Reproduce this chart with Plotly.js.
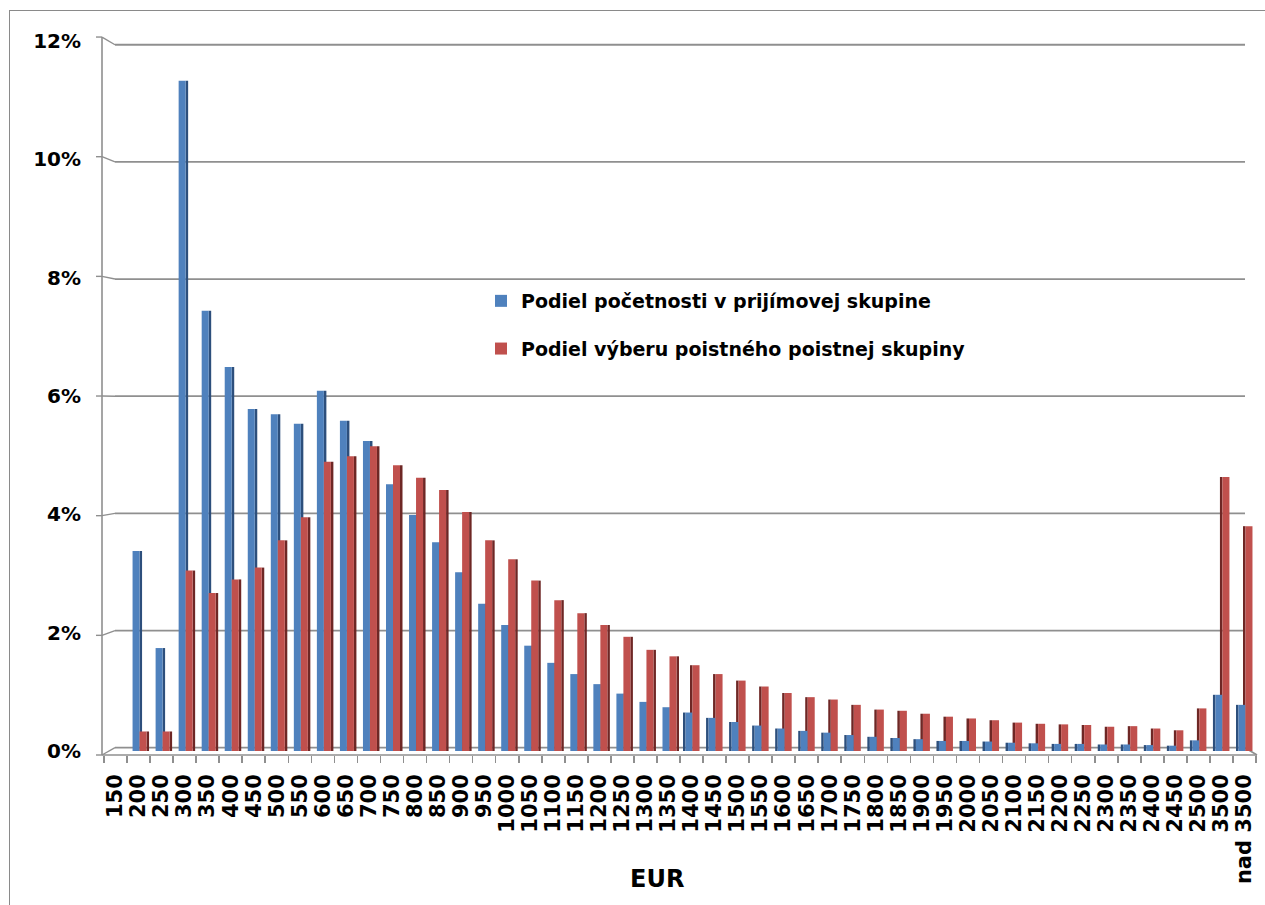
<!DOCTYPE html>
<html>
<head>
<meta charset="utf-8">
<script src="https://cdn.plot.ly/plotly-3.0.1.min.js"></script>
<style>
  html, body { margin: 0; padding: 0; background: #ffffff; overflow: hidden; }
  #chart { width: 1265px; height: 905px; }
  #frame { position: absolute; left: 9px; top: 10px; width: 1300px; height: 950px;
           border: 1px solid #8a8a8a; pointer-events: none; }
</style>
</head>
<body>
<div id="chart"></div>
<div id="frame"></div>
<script>
// ---- data (percent) ----
const categories = ['150','200','250','300','350','400','450','500','550','600','650','700','750','800','850','900','950','1000','1050','1100','1150','1200','1250','1300','1350','1400','1450','1500','1550','1600','1650','1700','1750','1800','1850','1900','1950','2000','2050','2100','2150','2200','2250','2300','2350','2400','2450','2500','3500','nad 3500'];
const podielPocetnosti = [0, 3.38, 1.74, 11.33, 7.44, 6.49, 5.78, 5.69, 5.53, 6.09, 5.58, 5.24, 4.51, 3.99, 3.53, 3.02, 2.49, 2.13, 1.78, 1.49, 1.30, 1.13, 0.97, 0.83, 0.74, 0.65, 0.56, 0.49, 0.43, 0.38, 0.34, 0.31, 0.27, 0.24, 0.22, 0.20, 0.17, 0.17, 0.16, 0.14, 0.13, 0.12, 0.12, 0.11, 0.11, 0.10, 0.09, 0.18, 0.95, 0.78];
const podielVyberu = [0, 0.33, 0.33, 3.05, 2.67, 2.90, 3.10, 3.56, 3.95, 4.89, 4.98, 5.15, 4.83, 4.62, 4.41, 4.04, 3.56, 3.24, 2.88, 2.55, 2.33, 2.13, 1.93, 1.71, 1.60, 1.45, 1.30, 1.19, 1.09, 0.98, 0.91, 0.87, 0.78, 0.70, 0.68, 0.63, 0.58, 0.55, 0.52, 0.48, 0.46, 0.45, 0.44, 0.41, 0.42, 0.38, 0.35, 0.72, 4.63, 3.80];
const seriesNames = ['Podiel početnosti v prijímovej skupine', 'Podiel výberu poistného poistnej skupiny'];
const yTickVals = [0, 2, 4, 6, 8, 10, 12];
const yTickText = ['0%', '2%', '4%', '6%', '8%', '10%', '12%'];
const xTitle = 'EUR';

// ---- geometry ----
const W = 1265, H = 905;
const L = 104, R = 9, T = 41, B = 150;
const plotW = W - L - R, plotH = H - T - B;
const zeroPx = 751, topPx = 41;
const pxPerPct = (zeroPx - topPx) / 12;
const yMin = -((H - B) - zeroPx) / pxPerPct;
const u = categories.length / plotW;           // category units per pixel
const px2x = px => (px - L) / plotW;
const px2y = py => ((H - B) - py) / plotH;
const mid = 25;

const font = 'DejaVu Sans, Verdana, sans-serif';
const blue = '#4F81BD', blueSide = '#2D4F7C';
const red = '#C0504D', redSide = '#6E2725';

const sideW = 2.5 * u;
const blueSideOff = categories.map((c, i) => i < mid ? 1 * u : -8.5 * u);
const redSideOff = categories.map((c, i) => i < mid ? 8 * u : -1.5 * u);

const traces = [
  { type: 'bar', x: categories, y: podielPocetnosti, width: sideW, offset: blueSideOff,
    marker: { color: blueSide }, showlegend: false, legendgroup: 'g1', hoverinfo: 'skip' },
  { type: 'bar', x: categories, y: podielVyberu, width: sideW, offset: redSideOff,
    marker: { color: redSide }, showlegend: false, legendgroup: 'g2', hoverinfo: 'skip' },
  { type: 'bar', name: seriesNames[0], x: categories, y: podielPocetnosti, width: 7 * u, offset: -6 * u,
    marker: { color: blue }, legendgroup: 'g1' },
  { type: 'bar', name: seriesNames[1], x: categories, y: podielVyberu, width: 7 * u, offset: 1 * u,
    marker: { color: red }, legendgroup: 'g2' }
];

// ---- 3D-looking walls / floor / axis drawn as decoration ----
const lineCol = '#8f8f8f';
const shapes = [];
const seg = (x0, y0, x1, y1, w) => shapes.push({ type: 'line', xref: 'paper', yref: 'paper',
  x0: px2x(x0), y0: px2y(y0), x1: px2x(x1), y1: px2y(y1), layer: 'below',
  line: { color: lineCol, width: w || 1.6 } });
const backY = v => 747.7 - 58.58 * v;
const frontY = v => 755 - 59.83 * v;
yTickVals.forEach(v => {
  seg(115, backY(v), 1245, backY(v), 1.8);
  seg(96, frontY(v), 102, frontY(v), 1.4);
  seg(102, frontY(v), 115, backY(v), 1.4);
});
seg(102, frontY(12), 102, 755, 1.6);
seg(102, 755, 1257, 755, 1.6);
seg(1245, backY(0), 1257, 755, 1.6);

const layout = {
  width: W, height: H,
  margin: { l: L, r: R, t: T, b: B, pad: 0, autoexpand: false },
  paper_bgcolor: 'rgba(0,0,0,0)', plot_bgcolor: 'rgba(0,0,0,0)',
  barmode: 'overlay',
  showlegend: true,
  font: { family: font, color: '#000000' },
  xaxis: {
    type: 'category', tickmode: 'linear', tick0: 0, dtick: 1,
    range: [-0.5, categories.length - 0.5], fixedrange: true,
    showgrid: false, zeroline: false, showline: false,
    ticks: 'outside', tickson: 'boundaries', ticklen: 7, tickwidth: 1.6, tickcolor: lineCol,
    tickangle: -90, ticklabelstandoff: 14,
    tickfont: { family: font, size: 21, weight: 700, color: '#000' },
    automargin: false
  },
  yaxis: {
    range: [yMin, 12], fixedrange: true,
    tickmode: 'array', tickvals: yTickVals, ticktext: yTickText,
    showgrid: false, zeroline: false, showline: false, ticks: '',
    ticklabelstandoff: 22,
    tickfont: { family: font, size: 20, weight: 700, color: '#000' },
    automargin: false
  },
  legend: {
    x: px2x(481), y: px2y(282), xanchor: 'left', yanchor: 'top',
    bgcolor: 'rgba(0,0,0,0)', borderwidth: 0,
    traceorder: 'grouped', tracegroupgap: 20,
    font: { family: font, size: 19, weight: 700, color: '#000' }
  },
  annotations: [{
    text: xTitle, xref: 'paper', yref: 'paper', x: px2x(657), y: px2y(879),
    xanchor: 'center', yanchor: 'middle', showarrow: false,
    font: { family: font, size: 24, weight: 700, color: '#000' }
  }],
  shapes: shapes
};

Plotly.newPlot('chart', traces, layout, { staticPlot: true, displayModeBar: false });
</script>
</body>
</html>
